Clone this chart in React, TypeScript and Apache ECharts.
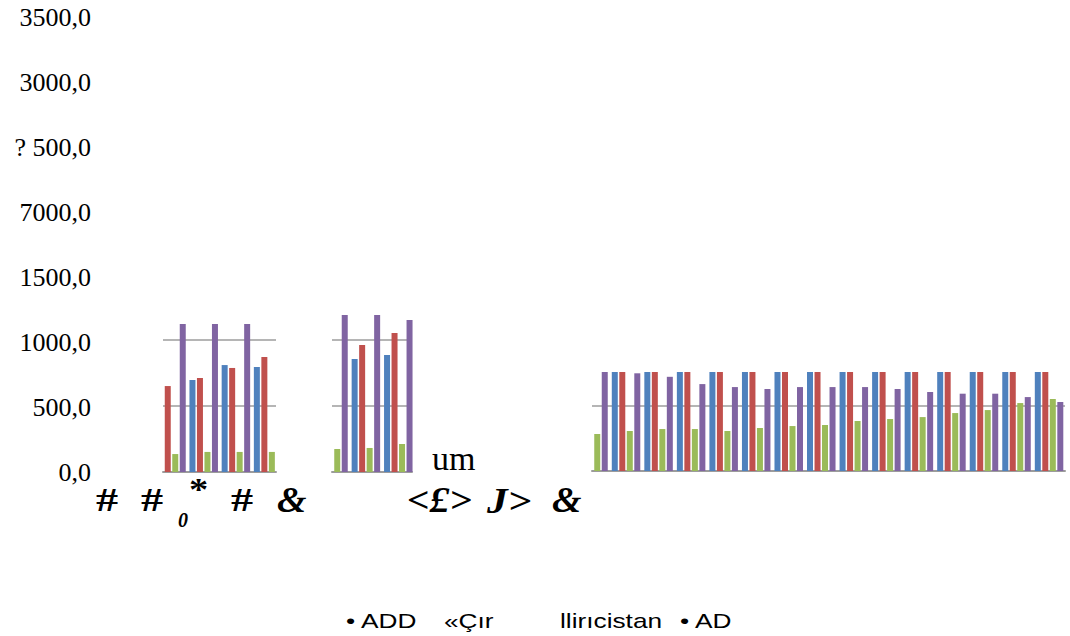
import React, { useEffect, useRef } from "react";
import * as echarts from "echarts";

// ---- data ----
const yTickLabels = ["0,0", "500,0", "1000,0", "1500,0", "7000,0", "? 500,0", "3000,0", "3500,0"];
const seriesNames = ["ADD", "«Çır", "llirıcistan", "AD"];
const seriesColors = ["#4F81BD", "#C0504D", "#9BBB59", "#8064A2"];

// fragment 1
const frag1Groups = [0, 1, 2, 3];
const frag1Blue = [null, 697, 810, 795];
const frag1Red = [651, 712, 788, 871];
const frag1Green = [136, 152, 152, 152];
const frag1Purple = [1180, 1180, 1180, null];

// fragment 2
const frag2Groups = [0, 1, 2];
const frag2Blue = [null, 856, 886];
const frag2Red = [null, 962, 1053];
const frag2Green = [174, 182, 212];
const frag2Purple = [1240, 1240, 1151];

// fragment 3
const frag3Groups = [0, 1, 2, 3, 4, 5, 6, 7, 8, 9, 10, 11, 12, 13, 14];
const frag3Blue = [null, 980, 1010, 1060, 1090, 1120, 1150, 1200, 1230, 1270, 1300, 1340, 1370, 1410, 1450];
const frag3Red = [null, 1020, 1060, 1090, 1130, 1160, 1190, 1240, 1280, 1310, 1350, 1390, 1420, 1460, 1500];
const frag3Green = [285, 308, 323, 323, 308, 331, 346, 354, 385, 400, 415, 446, 469, 523, 554];
const frag3Purple = [800, 752, 725, 669, 646, 631, 646, 646, 646, 631, 608, 595, 595, 569, 531];

const xLabelsLeft = ["#", "#", "0", "*", "#", "&"];
const xLabelsRight = ["<£>", "J>", "&"];
const legendTexts = ["• ADD", "«Çır", "llirıcistan", "• AD"];
const strayText = "um";

// ---- layout (positions / styles) ----
const fragments = [
  { groups: frag1Groups, values: [frag1Blue, frag1Red, frag1Green, frag1Purple], rect: { left: 163, top: 324, width: 113, height: 148 }, x: [-0.264, 3.245], yMax: 1121 },
  { groups: frag2Groups, values: [frag2Blue, frag2Red, frag2Green, frag2Purple], rect: { left: 332, top: 315, width: 80, height: 157 }, x: [-0.046, 2.423], yMax: 1189 },
  { groups: frag3Groups, values: [frag3Blue, frag3Red, frag3Green, frag3Purple], rect: { left: 592, top: 372, width: 473, height: 99 }, x: [-0.046, 14.49], yMax: 762 },
];

const gridGray = "#9c9c9c";

function buildOption() {
  const grid: any[] = [{ left: 100, top: 17, width: 10, height: 455 }];
  const xAxis: any[] = [{ gridIndex: 0, type: "value", show: false, min: 0, max: 1 }];
  const yAxis: any[] = [
    {
      gridIndex: 0,
      type: "value",
      min: 0,
      max: 3500,
      interval: 500,
      axisLine: { show: false },
      axisTick: { show: false },
      splitLine: { show: false },
      axisLabel: {
        margin: 9,
        color: "#000",
        fontFamily: "Liberation Serif",
        fontSize: 26,
        formatter: (v: number) => yTickLabels[Math.round(v / 500)],
      },
    },
  ];
  const series: any[] = [];
  fragments.forEach((f, fi) => {
    const gi = fi + 1;
    grid.push({ ...f.rect });
    xAxis.push({
      gridIndex: gi,
      type: "value",
      min: f.x[0],
      max: f.x[1],
      axisLabel: { show: false },
      axisTick: { show: false },
      splitLine: { show: false },
      axisLine: { show: true, onZero: false, lineStyle: { color: gridGray, width: 2 } },
    });
    yAxis.push({
      gridIndex: gi,
      type: "value",
      min: 0,
      max: f.yMax,
      interval: 500,
      axisLabel: { show: false },
      axisTick: { show: false },
      axisLine: { show: false },
      splitLine: { show: true, showMaxLine: false, showMinLine: false, lineStyle: { color: gridGray, width: 1.5 } },
    });
    f.values.forEach((vals, si) => {
      series.push({
        type: "bar",
        name: seriesNames[si],
        xAxisIndex: gi,
        yAxisIndex: gi,
        barWidth: 6,
        barGap: "25%",
        clip: true,
        itemStyle: { color: seriesColors[si] },
        data: f.groups
          .map((g, k) => [g, vals[k]])
          .filter((p) => p[1] !== null),
      });
    });
  });

  const serif = { fontFamily: "Liberation Serif", fontWeight: "bold", fill: "#000" };
  const leftX = [96, 141, 178, 189, 231, 277];
  const leftY = [500, 500, 520, 490, 500, 500];
  const leftSize = [34, 34, 20, 32, 34, 36];
  const leftItalic = [false, false, true, false, false, true];
  const leftScale = [1.3, 1.3, 1, 1.2, 1.3, 1.05];
  const rightX = [407, 487, 552];
  const rightSize = [36, 36, 36];
  const rightScale = [1.1, 1.15, 1.05];
  const graphic: any[] = [];
  xLabelsLeft.forEach((t, i) => {
    graphic.push({
      type: "text", x: leftX[i], y: leftY[i], scaleX: leftScale[i],
      style: { ...serif, fontStyle: leftItalic[i] ? "italic" : "normal", text: t, fontSize: leftSize[i], verticalAlign: "middle" },
    });
  });
  xLabelsRight.forEach((t, i) => {
    graphic.push({
      type: "text", x: rightX[i], y: 500, scaleX: rightScale[i],
      style: { ...serif, fontStyle: "italic", text: t, fontSize: rightSize[i], verticalAlign: "middle" },
    });
  });
  const legendX = [346, 444, 560, 680];
  legendTexts.forEach((t, i) => {
    graphic.push({
      type: "text", x: legendX[i], y: 620, scaleX: 1.25,
      style: { text: t, fontFamily: "Liberation Sans", fontSize: 21, fill: "#000", verticalAlign: "middle" },
    });
  });
  graphic.push({ type: "text", x: 432, y: 458, style: { text: strayText, fontFamily: "Liberation Serif", fontSize: 34, fill: "#000", verticalAlign: "middle" } });

  return { animation: false, backgroundColor: "#fff", grid, xAxis, yAxis, series, graphic };
}

export default function App() {
  const ref = useRef<HTMLDivElement>(null);
  useEffect(() => {
    if (!ref.current) return;
    const chart = echarts.init(ref.current, null, { renderer: "svg" });
    chart.setOption(buildOption() as any);
    return () => chart.dispose();
  }, []);
  return <div ref={ref} style={{ position: "fixed", left: 0, top: 0, width: 1070, height: 636, background: "#fff" }} />;
}
